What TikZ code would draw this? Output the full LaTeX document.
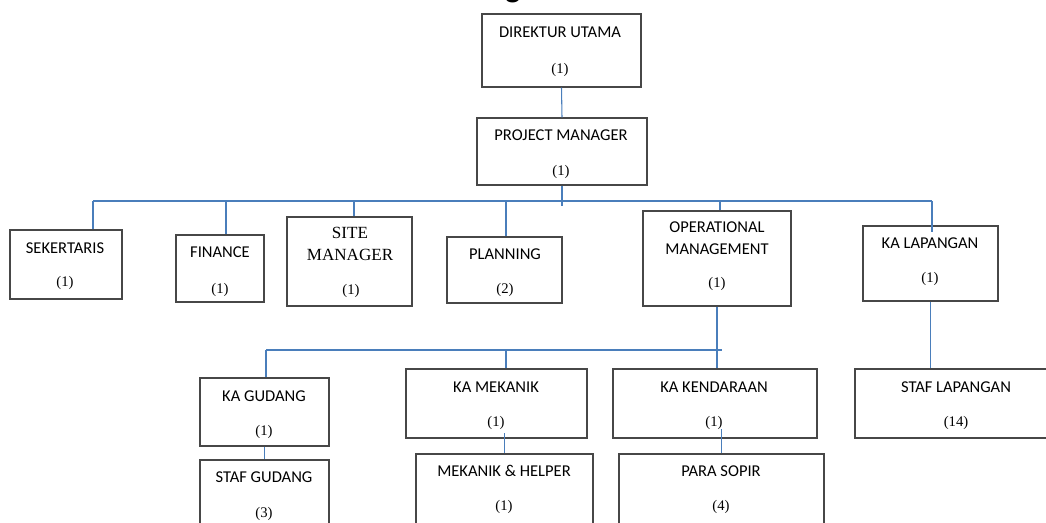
\documentclass[tikz,border=0pt]{standalone}
\usepackage{fontspec}
\setmainfont{Liberation Serif}
\newfontfamily\calfont{Carlito}
\usetikzlibrary{fit}
\definecolor{linkblue}{HTML}{4A7EBB}
\tikzset{
  box/.style={draw=black!72, line width=0.9pt, inner sep=0pt},
  conn/.style={draw=linkblue, line width=0.8pt},
  ttl/.style={font=\calfont\fontsize{12.4}{16.1}\selectfont, inner sep=0pt, align=center},
  cnt/.style={font=\fontsize{11}{13}\selectfont, inner sep=0pt},
  ser/.style={font=\fontsize{12.8}{16.9}\selectfont, inner sep=0pt, align=center},
}
\begin{document}
\begin{tikzpicture}[x=0.75pt, y=-0.75pt]
\path[use as bounding box, clip] (0,0) rectangle (1046,522);

% partially visible title
\node[font=\calfont\bfseries\fontsize{24}{28}\selectfont, anchor=base, inner sep=0pt] (title-g) at (513,-2.5) {g};

% boxes
\node[box, fit={(482,14) (641,87)}] (du) {};
\node[box, fit={(477,118) (647,185)}] (pm) {};
\node[box, fit={(10,230) (122,299)}] (sek) {};
\node[box, fit={(176,235) (264,302)}] (fin) {};
\node[box, fit={(287,217) (412,306)}] (site) {};
\node[box, fit={(447,237) (562,303)}] (plan) {};
\node[box, fit={(643,211) (791,306)}] (om) {};
\node[box, fit={(863,226) (998,301)}] (kal) {};
\node[box, fit={(200,378) (329,446)}] (kg) {};
\node[box, fit={(406,369) (587,438)}] (km) {};
\node[box, fit={(613,369) (817,438)}] (kk) {};
\node[box, fit={(855,369) (1057,438)}] (sl) {};
\node[box, fit={(200,460) (329,545)}] (sg) {};
\node[box, fit={(416,454) (593,545)}] (mh) {};
\node[box, fit={(619,454) (824,545)}] (ps) {};

% texts
\node[ttl] (du-t) at (560,32) {DIREKTUR UTAMA};
\node[cnt] (du-n) at (560,70) {(1)};
\node[ttl] (pm-t) at (561,135) {PROJECT MANAGER};
\node[cnt] (pm-n) at (561,172) {(1)};
\node[ttl] (sek-t) at (65,248) {SEKERTARIS};
\node[cnt] (sek-n) at (65,283) {(1)};
\node[ttl] (fin-t) at (220,252) {FINANCE};
\node[cnt] (fin-n) at (220,290) {(1)};
\node[ser] (site-t) at (350,244) {SITE\\MANAGER};
\node[cnt] (site-n) at (351,291) {(1)};
\node[ttl] (plan-t) at (505,254) {PLANNING};
\node[cnt] (plan-n) at (505,290) {(2)};
\node[ttl] (om-t) at (717,238) {OPERATIONAL\\MANAGEMENT};
\node[cnt] (om-n) at (717,284) {(1)};
\node[ttl] (kal-t) at (930,243) {KA LAPANGAN};
\node[cnt] (kal-n) at (930,279) {(1)};
\node[ttl] (kg-t) at (264,396) {KA GUDANG};
\node[cnt] (kg-n) at (264,432) {(1)};
\node[ttl] (km-t) at (496,387) {KA MEKANIK};
\node[cnt] (km-n) at (496,423) {(1)};
\node[ttl] (kk-t) at (714,387) {KA KENDARAAN};
\node[cnt] (kk-n) at (714,423) {(1)};
\node[ttl] (sl-t) at (956,387) {STAF LAPANGAN};
\node[cnt] (sl-n) at (956,423) {(14)};
\node[ttl] (sg-t) at (264,477) {STAF GUDANG};
\node[cnt] (sg-n) at (264,514) {(3)};
\node[ttl] (mh-t) at (504,471) {MEKANIK \& HELPER};
\node[cnt] (mh-n) at (504,507) {(1)};
\node[ttl] (ps-t) at (721,471) {PARA SOPIR};
\node[cnt] (ps-n) at (721,507) {(4)};

% connector coordinates
\coordinate (busL) at (93,201);
\coordinate (busR) at (932,201);
\coordinate (b-fin) at (226,201);
\coordinate (b-site) at (354,201);
\coordinate (b-plan) at (506,201);
\coordinate (b-om) at (720,201);
\coordinate (bus2L) at (266,350);
\coordinate (bus2R) at (722,350);
\coordinate (b-km) at (506,350);

% connectors
\draw[conn] (du.south) -- (pm.north);
\draw[conn] (pm.south) -- ++(0,20);
\draw[conn] (busL) -- (busR);
\draw[conn] (busL) -- (busL |- sek.north);
\draw[conn] (b-fin) -- (b-fin |- fin.north);
\draw[conn] (b-site) -- (b-site |- site.north);
\draw[conn] (b-plan) -- (b-plan |- plan.north);
\draw[conn] (b-om) -- (b-om |- om.north);
\draw[conn] (busR) -- ([yshift=-5pt]busR |- kal.north);
\draw[conn] (om.south) -- (om.south |- kk.north);
\draw[conn] (bus2L) -- (bus2R);
\draw[conn] (bus2L) -- (bus2L |- kg.north);
\draw[conn] (b-km) -- (b-km |- km.north);
\draw[conn] (kal.south) -- (kal.south |- sl.north);
\draw[conn] (kg.south) -- (kg.south |- sg.north);
\draw[conn] (mh.north) -- ++(0,-20);
\draw[conn] (ps.north) -- ++(0,-24);
\end{tikzpicture}
\end{document}
